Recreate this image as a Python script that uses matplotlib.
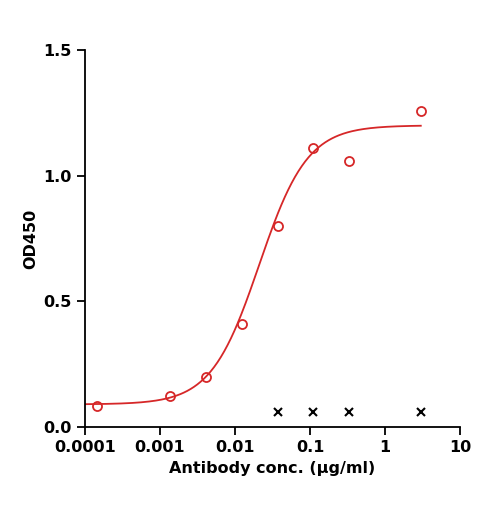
import numpy as np
import matplotlib
matplotlib.use("Agg")
import matplotlib.pyplot as plt

conc = [0.000145, 0.00135, 0.0041, 0.0123, 0.037, 0.111, 0.33, 3.0]
od = [0.084, 0.123, 0.20, 0.41, 0.80, 1.11, 1.06, 1.257]
neg_conc = [0.037, 0.111, 0.33, 3.0]
neg_od = [0.06, 0.06, 0.06, 0.06]
# 4PL fit parameters
bottom, top, ec50, hill = 0.09, 1.20, 0.021, 1.35

fig = plt.figure(figsize=(4.85, 5.08), dpi=100)
ax = fig.add_axes([85/485, 1-427/508, 375/485, 377/508])
xs = np.logspace(-4, np.log10(3.0), 300)
ax.plot(xs, bottom + (top-bottom)/(1+(ec50/xs)**hill), color='#d62728', lw=1.3)
ax.plot(conc, od, 'o', mfc='none', mec='#d62728', mew=1.3, ms=6.5)
ax.plot(neg_conc, neg_od, 'x', color='black', mew=1.5, ms=6)
ax.set_xscale('log')
ax.set_xlim(0.0001, 10)
ax.set_ylim(0, 1.5)
ax.set_xticks([0.0001, 0.001, 0.01, 0.1, 1, 10])
ax.set_xticklabels(['0.0001', '0.001', '0.01', '0.1', '1', '10'])
ax.set_yticks([0, 0.5, 1.0, 1.5])
ax.set_yticklabels(['0.0', '0.5', '1.0', '1.5'])
ax.minorticks_off()
for s in ['top', 'right']:
    ax.spines[s].set_visible(False)
for s in ['left', 'bottom']:
    ax.spines[s].set_linewidth(1.3)
ax.tick_params(width=1.3, length=6, labelsize=11.5)
for t in ax.get_xticklabels() + ax.get_yticklabels():
    t.set_fontweight('bold')
ax.set_xlabel('Antibody conc. (µg/ml)', fontsize=11.5, fontweight='bold')
ax.set_ylabel('OD450', fontsize=11.5, fontweight='bold')
fig.savefig('out.png', dpi=100)
